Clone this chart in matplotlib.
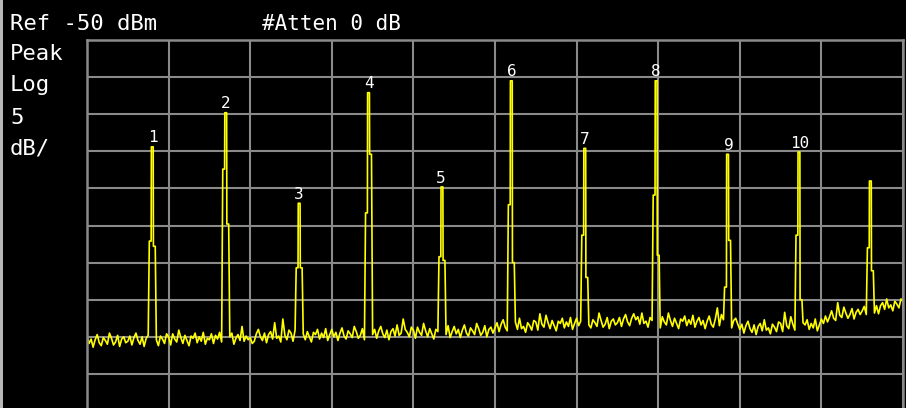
import numpy as np
import matplotlib
matplotlib.use("Agg")
import matplotlib.pyplot as plt

# ---- data (x in screen divisions 0..10, y in dBm) ----
ref_level = -50
db_per_div = 5
sweep_step = 0.025  # divisions per trace point (401 points)

noise_db = [
    -89.9, -90.9, -90.3, -91.4, -90.4, -89.7, -90.8, -91.2, -90.1, -90.5, -91.0, -89.5, -90.2, -91.1, -90.7, -89.8, -91.3, -90.3, -90.0, -90.8,
    -90.6, -89.9, -91.1, -90.1, -89.5, -90.5, -91.0, -90.0, -91.3, -90.2, -89.8, -90.8, -89.3, -90.7, -90.4, -91.2, -89.9, -90.3, -90.9, -89.6,
    -90.0, -91.1, -89.6, -90.3, -90.7, -89.1, -90.1, -90.9, -89.8, -90.5, -91.2, -89.9, -90.2, -89.5, -90.8, -90.0, -90.6, -89.4, -91.0, -90.2,
    -90.4, -89.6, -90.9, -89.8, -90.3, -89.4, -90.7, -90.1, -89.3, -90.8, -90.0, -89.5, -91.0, -90.2, -89.7, -90.5, -88.6, -90.6, -89.9, -90.4,
    -90.1, -90.9, -90.6, -89.6, -89.0, -90.0, -90.5, -89.5, -90.8, -89.7, -89.3, -90.3, -88.1, -90.2, -89.9, -90.7, -87.6, -89.8, -90.4, -89.1,
    -89.5, -90.6, -89.1, -89.8, -90.2, -88.6, -89.6, -90.4, -89.3, -90.0, -90.7, -89.4, -89.7, -89.0, -90.3, -89.5, -90.1, -88.9, -90.5, -89.7,
    -89.0, -90.0, -89.4, -90.5, -89.5, -88.8, -89.9, -90.3, -89.2, -89.6, -90.1, -88.6, -89.3, -90.2, -89.8, -88.9, -90.4, -89.4, -89.1, -89.9,
    -89.7, -89.0, -90.2, -89.2, -88.6, -89.6, -90.1, -89.1, -90.4, -89.3, -88.9, -89.9, -88.4, -89.8, -89.5, -87.6, -89.0, -89.4, -90.0, -88.7,
    -89.1, -90.2, -88.7, -89.4, -89.8, -88.2, -89.2, -90.0, -88.9, -89.6, -90.3, -89.0, -89.3, -88.6, -89.9, -89.1, -89.7, -88.5, -90.1, -89.3,
    -88.6, -89.6, -89.0, -90.1, -89.1, -88.4, -89.5, -89.9, -88.8, -89.2, -89.7, -88.2, -88.9, -89.8, -89.4, -88.5, -90.0, -89.0, -88.7, -89.5,
    -88.8, -88.1, -89.3, -88.3, -87.7, -88.7, -89.2, -88.2, -89.5, -88.4, -88.0, -89.0, -87.5, -88.9, -88.6, -89.4, -88.1, -88.5, -89.1, -87.8,
    -88.0, -89.1, -86.9, -88.3, -88.7, -87.1, -88.1, -88.9, -87.8, -88.5, -89.2, -87.9, -88.2, -87.5, -88.8, -88.0, -88.6, -87.4, -89.0, -88.2,
    -87.5, -88.5, -87.9, -89.0, -88.0, -87.3, -88.4, -88.8, -87.7, -88.1, -88.6, -86.8, -87.8, -88.7, -88.3, -87.4, -88.9, -87.9, -87.6, -88.4,
    -88.1, -87.4, -88.6, -87.6, -87.0, -88.0, -88.5, -87.5, -86.9, -87.7, -87.3, -88.3, -86.8, -88.2, -87.9, -88.7, -87.4, -87.8, -88.4, -87.1,
    -87.7, -88.8, -87.3, -88.0, -88.4, -86.8, -87.8, -88.6, -87.5, -88.2, -88.9, -87.6, -87.9, -87.2, -88.5, -87.7, -88.3, -87.1, -88.7, -87.9,
    -87.4, -88.4, -87.8, -88.9, -87.9, -87.2, -88.3, -88.7, -87.6, -86.1, -88.5, -87.0, -87.7, -88.6, -88.2, -87.3, -88.8, -87.8, -87.5, -88.3,
    -89.0, -88.3, -89.5, -88.5, -87.9, -88.9, -89.4, -88.4, -89.7, -88.6, -88.2, -89.2, -87.7, -89.1, -88.8, -89.6, -88.3, -88.7, -89.3, -88.0,
    -88.2, -89.3, -86.7, -88.5, -88.9, -87.3, -88.3, -89.1, -88.0, -88.7, -89.4, -88.1, -88.4, -87.7, -89.0, -88.2, -88.8, -87.6, -89.2, -88.4,
    -87.6, -88.2, -87.2, -88.0, -87.3, -86.5, -87.5, -87.8, -85.4, -87.1, -87.4, -86.0, -86.8, -87.5, -87.0, -86.2, -87.6, -86.7, -86.3, -87.0,
    -86.5, -85.9, -87.0, -86.0, -85.4, -86.3, -86.8, -85.8, -86.9, -85.8, -85.4, -86.3, -84.9, -86.1, -85.7, -86.5, -85.2, -85.6, -86.1, -84.9,
    -85.2,
]

peak_labels = ["1", "2", "3", "4", "5", "6", "7", "8", "9", "10", ""]
peak_pos = [0.81, 1.70, 2.59, 3.46, 4.34, 5.21, 6.10, 6.97, 7.86, 8.73, 9.60]
peak_top = [-64.4, -59.8, -72.0, -57.1, -69.8, -55.5, -64.6, -55.5, -65.4, -65.1, -69.0]
shoulder_left = [-77.1, -67.4, -80.7, -73.3, -79.2, -72.2, -76.3, -70.9, -83.3, -76.3, -78.0]
shoulder_right = [-77.8, -74.8, -80.7, -65.4, -79.7, -80.0, -82.0, -79.0, -77.0, -85.0, -81.1]

header_left = "Ref -50 dBm"
header_mid = "#Atten 0 dB"
side_lines = ["Peak", "Log", "5", "dB/"]

# ---- build trace: noise floor with the tones written into their sweep bins ----
bins = {}
for p, t, sl, sr in zip(peak_pos, peak_top, shoulder_left, shoulder_right):
    k = int(round(p / sweep_step))
    bins[k - 1] = sl
    bins[k] = t
    bins[k + 1] = sr

h = 0.45 * sweep_step
tx, ty = [], []
for i, v in enumerate(noise_db):
    x = i * sweep_step
    if i in bins:
        tx += [x - h, x + h]
        ty += [bins[i], bins[i]]
    else:
        tx.append(x)
        ty.append(v)

W, H = 906, 408
fig = plt.figure(figsize=(W / 100, H / 100), dpi=100, facecolor="black")

# left light-gray bezel
fig.patches.append(plt.Rectangle((0, 0), 3 / W, 1, transform=fig.transFigure,
                                 facecolor="#b8b8b8", edgecolor="none"))

x0, x1 = 87, 903
y0, y1 = 40, 411
ax = fig.add_axes([x0 / W, 1 - y1 / H, (x1 - x0) / W, (y1 - y0) / H])
ax.set_facecolor("black")
ax.set_xlim(0, 10)
ax.set_ylim(ref_level - 10 * db_per_div, ref_level)
ax.set_xticks(np.arange(0, 11, 1))
ax.set_yticks(np.arange(ref_level - 10 * db_per_div, ref_level + 1, db_per_div))
ax.tick_params(length=0, labelbottom=False, labelleft=False)
ax.grid(True, color="#8a8a8a", lw=1.5)
for s in ax.spines.values():
    s.set_color("#8a8a8a")
    s.set_linewidth(1.8)

ax.plot(tx, ty, color="#ffff00", lw=1.2)

for lab, p, t in zip(peak_labels, peak_pos, peak_top):
    if lab:
        ax.annotate(lab, (p, t), xytext=(0, 1), textcoords="offset points",
                    ha="center", va="bottom", color="white",
                    family="DejaVu Sans Mono", fontsize=11.5)

mono = "DejaVu Sans Mono"
fig.text(10 / W, 1 - 30 / H, header_left, color="white", family=mono,
         fontsize=16, va="baseline", ha="left")
fig.text(262 / W, 1 - 30 / H, header_mid, color="white", family=mono,
         fontsize=15, va="baseline", ha="left")
for s, yb in zip(side_lines, [60, 91, 124, 155]):
    fig.text(10 / W, 1 - yb / H, s, color="white", family=mono,
             fontsize=16, va="baseline", ha="left")

fig.savefig("out.png", dpi=100, facecolor="black")
